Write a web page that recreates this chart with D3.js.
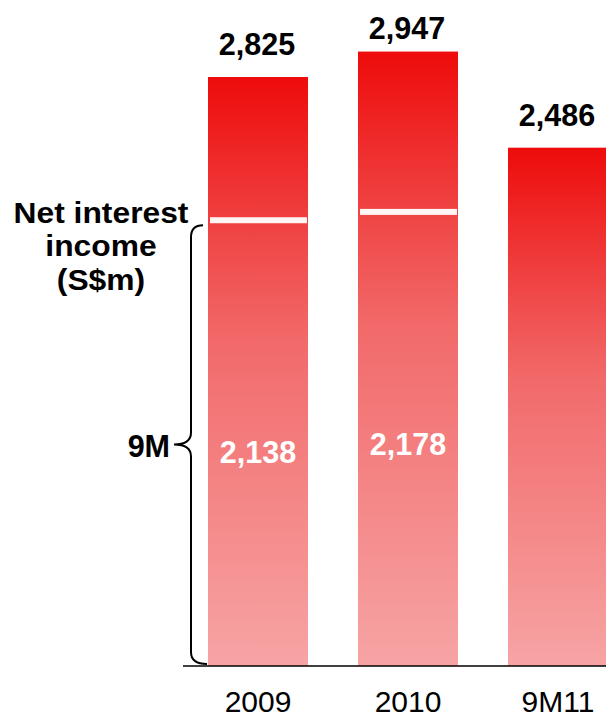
<!DOCTYPE html>
<html>
<head>
<meta charset="utf-8">
<script src="https://cdn.jsdelivr.net/npm/d3@7/dist/d3.min.js"></script>
<style>
  html, body { margin: 0; padding: 0; background: #fff; }
  svg { display: block; font-family: "Liberation Sans", Arial, sans-serif; }
</style>
</head>
<body>
<svg id="chart" width="606" height="717"></svg>
<script>
// Net interest income (S$m): full-year totals and the nine-month portion
const categories = ["2009", "2010", "9M11"];
const totals = [2825, 2947, 2486];
const nineMonth = [2138, 2178, null];
const titleLines = ["Net interest", "income", "(S$m)"];
const braceLabel = "9M";

const width = 606, height = 717;
const svg = d3.select("#chart");

const x = d3.scaleBand().domain(categories).range([158, 658]).padding(1 / 3);
const y = d3.scaleLinear().domain([0, 2825]).range([666, 77]);

// vertical gradient per bar: bright red on top fading to pink at the base
const defs = svg.append("defs");
const grad = defs.append("linearGradient")
  .attr("id", "barGrad")
  .attr("x1", 0).attr("y1", 0).attr("x2", 0).attr("y2", 1);
[[0, "#ee0b0b"], [0.3, "#f04c4c"], [0.45, "#f26a6a"], [1, "#f7a4a5"]]
  .forEach(([o, c]) => grad.append("stop").attr("offset", o).attr("stop-color", c));

const fmt = d3.format(",");
const data = categories.map((c, i) => ({ cat: c, total: totals[i], nm: nineMonth[i] }));

// bars
svg.append("g").selectAll("rect")
  .data(data)
  .join("rect")
  .attr("x", d => x(d.cat))
  .attr("y", d => y(d.total))
  .attr("width", x.bandwidth())
  .attr("height", d => y(0) - y(d.total))
  .attr("fill", "url(#barGrad)");

// white divider marking the nine-month level
svg.append("g").selectAll("rect")
  .data(data.filter(d => d.nm != null))
  .join("rect")
  .attr("x", d => x(d.cat) + 2)
  .attr("y", d => y(d.nm) - 3)
  .attr("width", x.bandwidth() - 3)
  .attr("height", 6)
  .attr("fill", "#fff")
  .attr("opacity", 0.95);

// total labels above bars (kept inside the top padding)
svg.append("g").selectAll("text")
  .data(data)
  .join("text")
  .attr("x", d => x(d.cat) + x.bandwidth() / 2 - 1)
  .attr("y", d => Math.max(y(d.total) - 22, 39))
  .attr("text-anchor", "middle")
  .attr("font-size", 30.5)
  .attr("font-weight", "bold")
  .attr("fill", "#000")
  .text(d => fmt(d.total));

// nine-month labels inside bars
svg.append("g").selectAll("text")
  .data(data.filter(d => d.nm != null))
  .join("text")
  .attr("x", d => x(d.cat) + x.bandwidth() / 2)
  .attr("y", d => y(d.nm) + 243)
  .attr("text-anchor", "middle")
  .attr("font-size", 30.5)
  .attr("font-weight", "bold")
  .attr("fill", "#fff")
  .text(d => fmt(d.nm));

// baseline
svg.append("line")
  .attr("x1", 183).attr("x2", width)
  .attr("y1", y(0)).attr("y2", y(0))
  .attr("stroke", "#000").attr("stroke-width", 1.5);

// category labels
svg.append("g").selectAll("text")
  .data(categories)
  .join("text")
  .attr("x", d => x(d) + x.bandwidth() / 2)
  .attr("y", 712)
  .attr("text-anchor", "middle")
  .attr("font-size", 30)
  .attr("fill", "#000")
  .text(d => d);

// series title on the left
const title = svg.append("g")
  .attr("transform", "translate(101,0) scale(1.06,1)");
title.selectAll("text")
  .data(titleLines)
  .join("text")
  .attr("x", 0)
  .attr("y", (d, i) => 223 + i * 33.5)
  .attr("text-anchor", "middle")
  .attr("font-size", 30)
  .attr("font-weight", "bold")
  .attr("fill", "#000")
  .text(d => d);

// curly brace spanning the nine-month segment of the first bar
const bTop = y(nineMonth[0]) + 5, bBot = y(0) - 2;
const bx = 191, mid = (bTop + bBot) / 2;
const brace = d3.path();
brace.moveTo(203, bTop);
brace.quadraticCurveTo(bx, bTop, bx, bTop + 12);
brace.lineTo(bx, mid - 12);
brace.quadraticCurveTo(bx, mid, 174, mid);
brace.quadraticCurveTo(bx, mid, bx, mid + 12);
brace.lineTo(bx, bBot - 12);
brace.quadraticCurveTo(bx, bBot, 207, bBot);
svg.append("path")
  .attr("d", brace.toString())
  .attr("fill", "none")
  .attr("stroke", "#000")
  .attr("stroke-width", 2);

svg.append("text")
  .attr("x", 170)
  .attr("y", mid + 12)
  .attr("text-anchor", "end")
  .attr("font-size", 30.5)
  .attr("font-weight", "bold")
  .attr("fill", "#000")
  .text(braceLabel);
</script>
</body>
</html>
